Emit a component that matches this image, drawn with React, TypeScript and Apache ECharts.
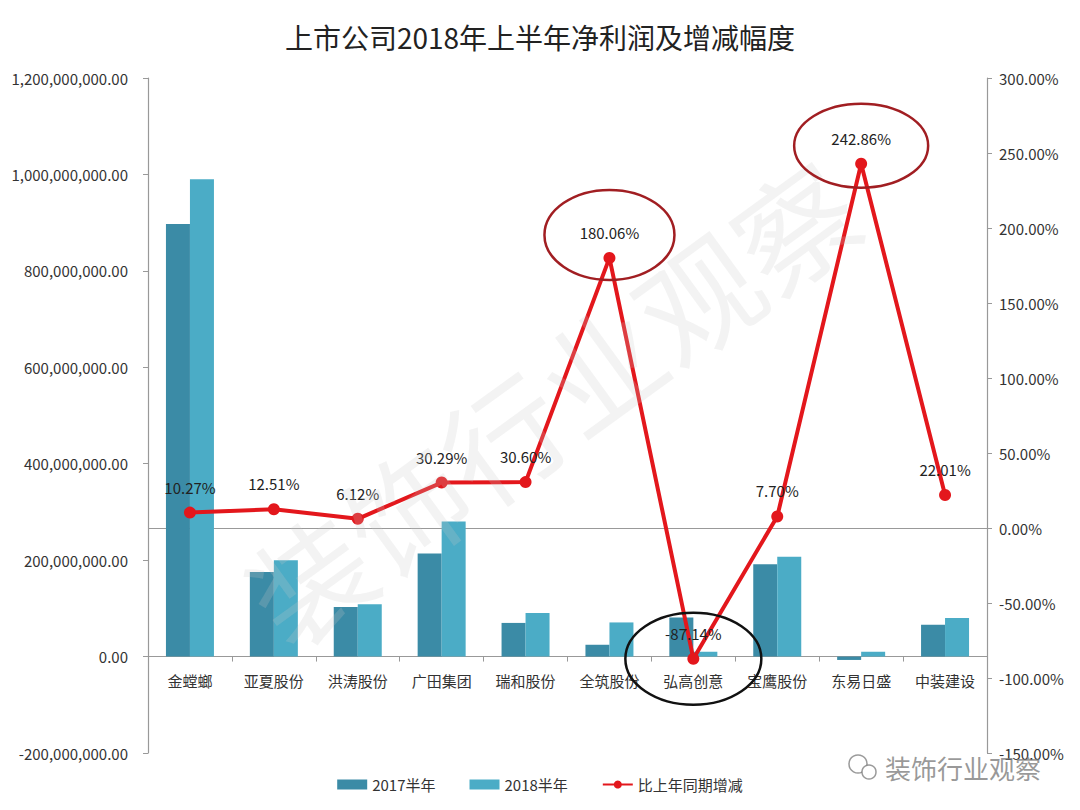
import React, { useEffect, useRef } from "react";
import * as echarts from "echarts";

const categories = ["金螳螂", "亚夏股份", "洪涛股份", "广田集团", "瑞和股份", "全筑股份", "弘高创意", "宝鹰股份", "东易日盛", "中装建设"];
const profit2017 = [897000000, 175500000, 103000000, 214000000, 69800000, 24500000, 81000000, 191700000, -7000000, 66000000];
const profit2018 = [990000000, 199600000, 108400000, 280000000, 90500000, 70800000, 10000000, 206800000, 10000000, 80000000];
const growth = [10.27, 12.51, 6.12, 30.29, 30.6, 180.06, -87.14, 7.7, 242.86, 22.01];

const FONT = "'Noto Sans CJK SC', 'Noto Sans', sans-serif";
const LEFT_MIN = -200000000;
const LEFT_MAX = 1200000000;
const GRID_TOP = 78;
const GRID_BOTTOM = 57;
const GRID_H = 810 - GRID_TOP - GRID_BOTTOM;
const ZERO_OFFSET = -GRID_H * (-LEFT_MIN / (LEFT_MAX - LEFT_MIN));

export default function App() {
  const ref = useRef<HTMLDivElement>(null);
  useEffect(() => {
    if (!ref.current) return;
    const chart = echarts.init(ref.current, null, { renderer: "svg" });
    const option: any = {
      animation: false,
      backgroundColor: "#ffffff",
      textStyle: { fontFamily: FONT },
      title: {
        text: "上市公司2018年上半年净利润及增减幅度",
        left: "center",
        top: 18,
        textStyle: { fontSize: 28, fontWeight: "normal", color: "#222", fontFamily: FONT },
      },
      legend: {
        bottom: 13,
        left: "center",
        itemGap: 34,
        itemWidth: 30,
        itemHeight: 10,
        textStyle: { fontSize: 15, color: "#333", fontFamily: FONT },
        data: [
          { name: "2017半年", icon: "rect" },
          { name: "2018半年", icon: "rect" },
          { name: "比上年同期增减" },
        ],
      },
      grid: { left: 148, right: 93, top: GRID_TOP, bottom: GRID_BOTTOM, containLabel: false },
      xAxis: {
        type: "category",
        data: categories,
        position: "bottom",
        offset: ZERO_OFFSET,
        axisLine: { onZero: false, lineStyle: { color: "#999", width: 1.2 } },
        axisTick: { show: true, length: 5, lineStyle: { color: "#999" } },
        axisLabel: { fontSize: 15, color: "#333", margin: 16, fontFamily: FONT },
      },
      yAxis: [
        {
          type: "value",
          min: LEFT_MIN,
          max: LEFT_MAX,
          interval: 200000000,
          splitLine: { show: false },
          axisLine: { show: true, lineStyle: { color: "#999", width: 1.2 } },
          axisTick: { show: true, length: 5, lineStyle: { color: "#999" } },
          axisLabel: {
            fontSize: 15,
            color: "#333",
            margin: 20,
            fontFamily: FONT,
            formatter: (v: number) =>
              v.toLocaleString("en-US", { minimumFractionDigits: 2, maximumFractionDigits: 2 }),
          },
        },
        {
          type: "value",
          min: -150,
          max: 300,
          interval: 50,
          position: "right",
          splitLine: { show: false },
          axisLine: { show: true, lineStyle: { color: "#999", width: 1.2 } },
          axisTick: { show: true, length: 5, lineStyle: { color: "#999" } },
          axisLabel: {
            fontSize: 15,
            color: "#333",
            margin: 12,
            fontFamily: FONT,
            formatter: (v: number) => v.toFixed(2) + "%",
          },
        },
      ],
      series: [
        {
          name: "2017半年",
          type: "bar",
          yAxisIndex: 0,
          data: profit2017,
          barWidth: 24,
          barGap: "0%",
          itemStyle: { color: "#3B8BA6" },
        },
        {
          name: "2018半年",
          type: "bar",
          yAxisIndex: 0,
          data: profit2018,
          barWidth: 24,
          itemStyle: { color: "#4BACC6" },
        },
        {
          name: "比上年同期增减",
          type: "line",
          yAxisIndex: 1,
          data: growth,
          z: 5,
          symbol: "circle",
          symbolSize: 12,
          lineStyle: { color: "#E3171C", width: 4 },
          itemStyle: { color: "#E3171C" },
          label: {
            show: true,
            position: "top",
            distance: 12,
            fontSize: 15,
            color: "#222",
            fontFamily: FONT,
            formatter: (p: any) => Number(p.value).toFixed(2) + "%",
          },
          markLine: {
            silent: true,
            symbol: "none",
            label: { show: false },
            lineStyle: { color: "#999", type: "solid", width: 1.2 },
            data: [{ yAxis: 0 }],
            z: 1,
          },
        },
      ],
    };
    chart.setOption(option);

    const ann = [
      { idx: 5, dy: -23, rx: 65, ry: 45, color: "#A11E22" },
      { idx: 8, dy: -18, rx: 67, ry: 42, color: "#A11E22" },
      { idx: 6, dy: 0, rx: 68, ry: 46, color: "#111111" },
    ];
    const graphics: any[] = ann.map((a) => {
      const p = chart.convertToPixel({ seriesIndex: 2 }, [a.idx, growth[a.idx]]) as number[];
      return {
        type: "ellipse",
        shape: { cx: p[0], cy: p[1] + a.dy, rx: a.rx, ry: a.ry },
        style: { fill: "none", stroke: a.color, lineWidth: 2.5 },
        z: 100,
      };
    });
    graphics.push({
      type: "text",
      x: 550,
      y: 400,
      rotation: Math.PI * 0.2,
      style: {
        text: "装饰行业观察",
        font: `120px ${FONT}`,
        fill: "rgba(200,200,200,0.22)",
        textAlign: "center",
        textVerticalAlign: "middle",
      },
      z: 50,
      silent: true,
    });
    graphics.push({
      type: "text",
      x: 885,
      y: 767,
      style: {
        text: "装饰行业观察",
        font: `26px ${FONT}`,
        fill: "rgba(120,120,120,0.75)",
        textVerticalAlign: "middle",
      },
      z: 60,
    });
    graphics.push({
      type: "circle",
      shape: { cx: 858, cy: 764, r: 9 },
      style: { fill: "none", stroke: "rgba(120,120,120,0.75)", lineWidth: 1.5 },
      z: 60,
    });
    graphics.push({
      type: "circle",
      shape: { cx: 869, cy: 772, r: 7 },
      style: { fill: "#fff", stroke: "rgba(120,120,120,0.75)", lineWidth: 1.5 },
      z: 60,
    });
    chart.setOption({ graphic: graphics });

    return () => chart.dispose();
  }, []);
  return (
    <div
      ref={ref}
      style={{ position: "fixed", left: 0, top: 0, width: 1080, height: 810, background: "#fff" }}
    />
  );
}
